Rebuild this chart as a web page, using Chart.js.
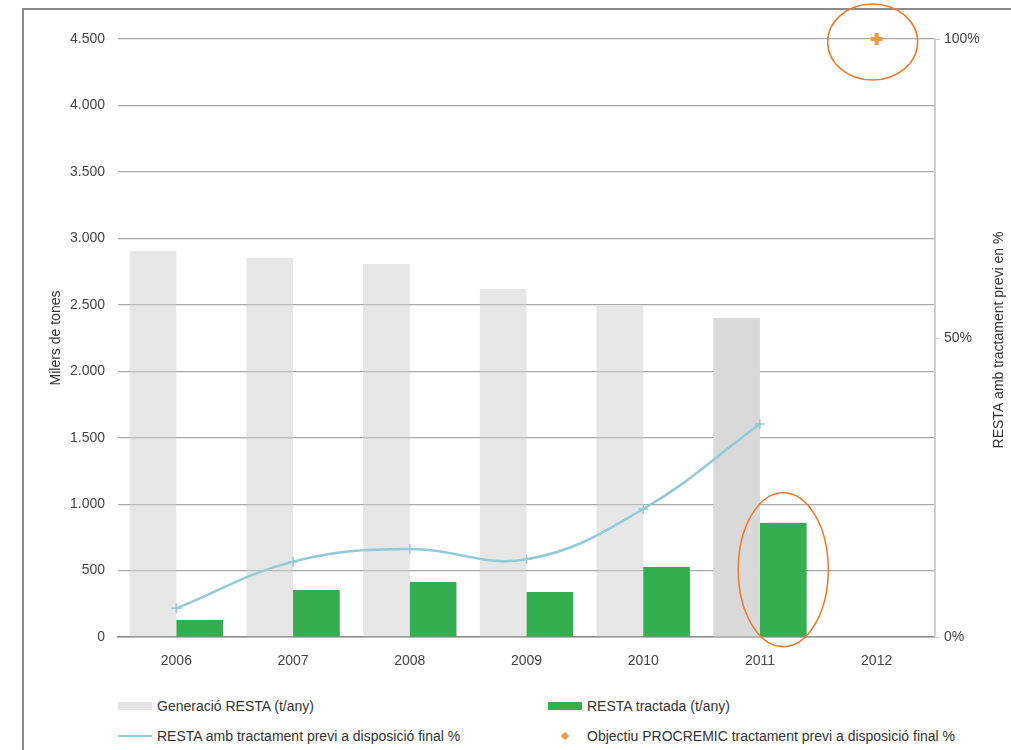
<!DOCTYPE html>
<html>
<head>
<meta charset="utf-8">
<script src="https://cdn.jsdelivr.net/npm/chart.js@4.4.1/dist/chart.umd.min.js"></script>
<style>
	body { margin: 0; background: #fff; font-family: "Liberation Sans", Arial, sans-serif; }
	#frame { position: absolute; left: 22px; top: 8px; width: 1100px; height: 900px;
		border-left: 2px solid #8c8c8c; border-top: 2px solid #8c8c8c; }
	#wrap { position: absolute; left: 0; top: 0; width: 1011px; height: 680px; }
	#legend { position: absolute; left: 118px; top: 691px; display: grid;
		grid-template-columns: 430px 430px; grid-auto-rows: 30px; font-size: 14px; color: #333; }
	.item { display: flex; align-items: center; white-space: nowrap; }
	.sw { width: 34px; margin-right: 5px; display: flex; align-items: center; justify-content: center; }
</style>
</head>
<body>
<div id="frame"></div>
<div id="wrap"><canvas id="chart"></canvas></div>
<div id="legend"></div>
<script>
const years = ['2006', '2007', '2008', '2009', '2010', '2011', '2012'];
const generacio = [2905, 2852, 2807, 2619, 2491, 2401, null];
const tractada = [128, 354, 414, 339, 527, 858, null];
const percentTractament = [4.8, 12.6, 14.7, 13.0, 21.4, 35.6, null];
const objectiu = [null, null, null, null, null, null, 100];
const leftTicks = [0, 500, 1000, 1500, 2000, 2500, 3000, 3500, 4000, 4500];
const rightTicks = [0, 50, 100];

const labels = {
	generacio: 'Generació RESTA (t/any)',
	tractada: 'RESTA tractada (t/any)',
	percent: 'RESTA amb tractament previ a disposició final %',
	objectiu: 'Objectiu PROCREMIC tractament previ a disposició final %',
	yTitle: 'Milers de tones',
	y1Title: 'RESTA amb tractament previ en %',
};

const fmt = (v) => String(v).replace(/\B(?=(\d{3})+(?!\d))/g, '.');
const FONT = '"Liberation Sans", Arial, sans-serif';

// axis titles + the orange ellipses drawn on top
const overlay = {
	id: 'overlay',
	afterDatasetsDraw(chart) {
		const { ctx, chartArea, scales } = chart;
		const midY = (chartArea.top + chartArea.bottom) / 2;
		ctx.save();
		ctx.fillStyle = '#333';
		ctx.font = '14px ' + FONT;
		ctx.textAlign = 'center';
		ctx.textBaseline = 'middle';
		ctx.save();
		ctx.translate(56, midY);
		ctx.rotate(-Math.PI / 2);
		ctx.fillText(labels.yTitle, 0, 0);
		ctx.restore();
		ctx.save();
		ctx.translate(999, midY + 2);
		ctx.rotate(-Math.PI / 2);
		ctx.fillText(labels.y1Title, 0, 0);
		ctx.restore();

		ctx.strokeStyle = '#ea7a2c';
		ctx.lineWidth = 1.5;
		const px = scales.x.getPixelForValue(6);
		const py = scales.y1.getPixelForValue(100);
		ctx.beginPath();
		ctx.ellipse(px - 4, py + 3, 45, 38, 0, 0, Math.PI * 2);
		ctx.stroke();
		const bar = chart.getDatasetMeta(3).data[5];
		ctx.beginPath();
		ctx.ellipse(bar.x, (bar.y + bar.base) / 2 - 10, 45, 77, 0, 0, Math.PI * 2);
		ctx.stroke();
		ctx.restore();
	},
};

const chart = new Chart(document.getElementById('chart'), {
	type: 'bar',
	data: {
		labels: years,
		datasets: [
			{
				type: 'line',
				label: labels.objectiu,
				data: objectiu,
				yAxisID: 'y1',
				showLine: false,
				clip: false,
				pointStyle: 'cross',
				pointRadius: 6,
				pointBorderWidth: 4,
				borderColor: '#f09a45',
				backgroundColor: '#f09a45',
				order: 0,
			},
			{
				type: 'line',
				label: labels.percent,
				data: percentTractament,
				yAxisID: 'y1',
				borderColor: '#93cad8',
				backgroundColor: '#93cad8',
				borderWidth: 2.5,
				tension: 0.4,
				pointStyle: 'cross',
				pointRadius: 5,
				pointBorderWidth: 1.5,
				order: 0,
			},
			{
				label: labels.generacio,
				data: generacio,
				yAxisID: 'y',
				backgroundColor: ['rgba(205,205,205,0.5)', 'rgba(205,205,205,0.5)', 'rgba(205,205,205,0.5)',
					'rgba(205,205,205,0.5)', 'rgba(205,205,205,0.5)', '#d9d9d9', '#d9d9d9'],
				categoryPercentage: 0.8,
				barPercentage: 1.0,
				order: 1,
			},
			{
				label: labels.tractada,
				data: tractada,
				yAxisID: 'y',
				backgroundColor: '#34ae4f',
				categoryPercentage: 0.8,
				barPercentage: 1.0,
				order: 1,
			},
		],
	},
	options: {
		responsive: true,
		maintainAspectRatio: false,
		animation: false,
		layout: { padding: { left: 0, right: 0, top: 39, bottom: 0 } },
		plugins: {
			legend: { display: false },
			tooltip: { enabled: false },
		},
		scales: {
			x: {
				grid: { display: false },
				border: { display: true, color: '#8a8a8a', width: 1.5 },
				ticks: { color: '#444', font: { family: FONT, size: 14 }, padding: 8 },
				afterFit: (s) => { s.height = 43; },
			},
			y: {
				position: 'left',
				min: 0,
				max: 4500,
				afterBuildTicks: (s) => { s.ticks = leftTicks.map((v) => ({ value: v })); },
				grid: { color: '#a8a8a8', lineWidth: 1.2, drawTicks: false },
				border: { display: false },
				ticks: {
					color: '#444',
					font: { family: FONT, size: 14 },
					padding: 13,
					callback: (v) => fmt(v),
				},
				afterFit: (s) => { s.width = 118; },
			},
			y1: {
				position: 'right',
				min: 0,
				max: 100,
				afterBuildTicks: (s) => { s.ticks = rightTicks.map((v) => ({ value: v })); },
				grid: { drawOnChartArea: false, color: '#cccccc', tickLength: 5 },
				border: { display: true, color: '#cfcfcf', width: 2 },
				ticks: {
					color: '#444',
					font: { family: FONT, size: 14 },
					padding: 4,
					callback: (v) => v + '%',
				},
				afterFit: (s) => { s.width = 76; },
			},
		},
	},
	plugins: [overlay],
});

// two-column legend under the chart
const legendOrder = [2, 3, 1, 0];
const legendEl = document.getElementById('legend');
legendOrder.forEach((i) => {
	const ds = chart.data.datasets[i];
	const item = document.createElement('div');
	item.className = 'item';
	const sw = document.createElement('span');
	sw.className = 'sw';
	const mark = document.createElement('span');
	if (ds.type === 'line' && ds.showLine === false) {
		mark.style.cssText = 'width:6px;height:6px;transform:rotate(45deg);background:' + ds.borderColor;
	} else if (ds.type === 'line') {
		mark.style.cssText = 'width:34px;height:2.5px;background:' + ds.borderColor;
	} else {
		const c = Array.isArray(ds.backgroundColor) ? '#e3e3e3' : ds.backgroundColor;
		mark.style.cssText = 'width:34px;height:8px;background:' + c;
	}
	sw.appendChild(mark);
	item.appendChild(sw);
	item.appendChild(document.createTextNode(ds.label));
	legendEl.appendChild(item);
});
</script>
</body>
</html>
